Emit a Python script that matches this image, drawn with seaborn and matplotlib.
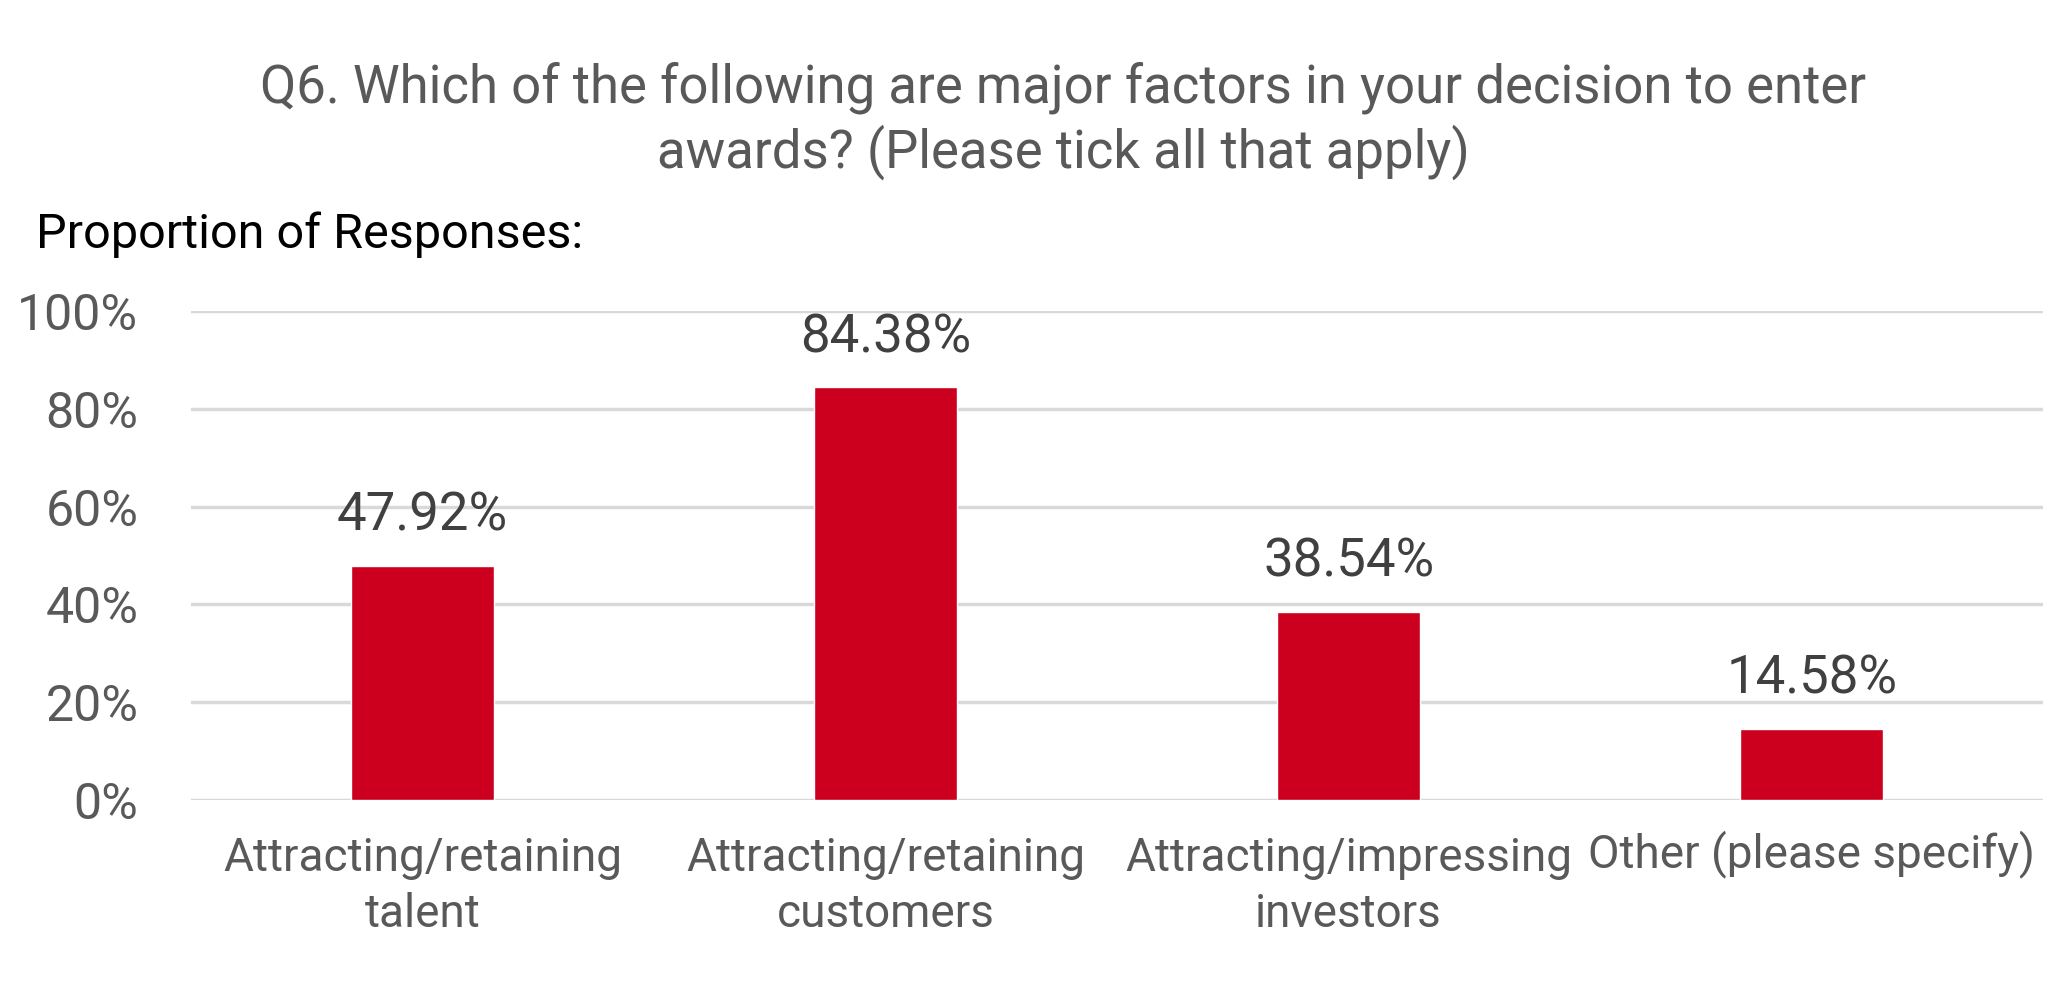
import matplotlib.pyplot as plt
import matplotlib.transforms as mtransforms
import seaborn as sns
import pandas as pd

categories = ["Attracting/retaining\ntalent", "Attracting/retaining\ncustomers",
              "Attracting/impressing\ninvestors", "Other (please specify)"]
shares = [47.92, 84.38, 38.54, 14.58]
y_ticks = [0, 20, 40, 60, 80, 100]

df = pd.DataFrame({"category": categories, "share": [v / 100 for v in shares]})

sns.set_style("white")
plt.rcParams['font.family'] = ['Roboto', 'DejaVu Sans']

fig = plt.figure(figsize=(20.68, 10), dpi=100)
ax = fig.add_axes([0.0924, 0.2, 0.8956, 0.489])

sns.barplot(data=df, x="category", y="share", color="#CC001E", width=0.31,
            saturation=1, ax=ax)

ax.set_ylim(0, 1)
ax.set_xlim(-0.5, 3.5)
ax.set_yticks([t / 100 for t in y_ticks])
ax.set_yticklabels([f"{t}%" for t in y_ticks])
ax.yaxis.grid(True, color="#D9D9D9", linewidth=2.5)
ax.set_axisbelow(True)
for s in ax.spines.values():
    s.set_visible(False)
ax.tick_params(axis="y", length=0, pad=38, labelsize=36, labelcolor="#595959")
ax.tick_params(axis="x", length=0, pad=26, labelsize=33, labelcolor="#595959")
# single-line label sits a little low next to the wrapped ones; lift it
lift = mtransforms.ScaledTranslation(0, 4 / 72, fig.dpi_scale_trans)
for lbl in ax.get_xticklabels():
    lbl.set_linespacing(1.35)
    if "\n" not in lbl.get_text():
        lbl.set_transform(lbl.get_transform() + lift)
ax.set_xlabel("")
ax.set_ylabel("")

ax.bar_label(ax.containers[0], labels=[f"{v:.2f}%" for v in shares],
             padding=17.5, fontsize=38, color="#404040")

fig.text(0.514, 0.897, "Q6. Which of the following are major factors in your decision to enter",
         ha="center", va="baseline", fontsize=38, color="#595959")
fig.text(0.514, 0.832, "awards? (Please tick all that apply)",
         ha="center", va="baseline", fontsize=38, color="#595959")
fig.text(0.0175, 0.752, "Proportion of Responses:", ha="left", va="baseline",
         fontsize=35, color="black")

fig.savefig("out.png", dpi=100)
